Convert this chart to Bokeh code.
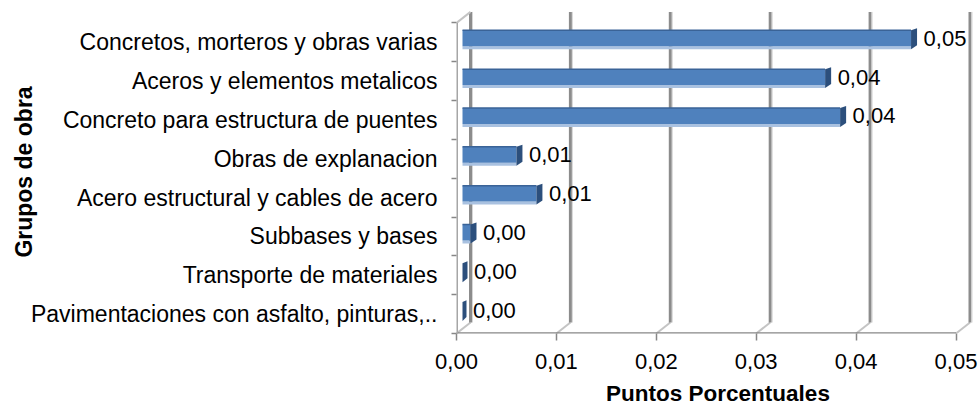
from bokeh.plotting import figure
from bokeh.models import FixedTicker, Range1d
from bokeh.embed import file_html
from bokeh.resources import INLINE
from bokeh.core.properties import value

# ---------------- data ----------------
categories = [
    "Concretos, morteros y obras varias",
    "Aceros y elementos metalicos",
    "Concreto para estructura de puentes",
    "Obras de explanacion",
    "Acero estructural y cables de acero",
    "Subbases y bases",
    "Transporte de materiales",
    "Pavimentaciones con asfalto, pinturas,..",
]
values = [0.0455, 0.0369, 0.0384, 0.0060, 0.0080, 0.0014, 0.0005, 0.0004]
value_labels = ["0,05", "0,04", "0,04", "0,01", "0,01", "0,00", "0,00", "0,00"]
x_ticks = [0.0, 0.01, 0.02, 0.03, 0.04, 0.05]
x_tick_labels = ["0,00", "0,01", "0,02", "0,03", "0,04", "0,05"]
x_title = "Puntos Porcentuales"
y_title = "Grupos de obra"

# ---------------- layout ----------------
W, H = 979, 408
LEFT, BOTTOM, TOP = 456, 74, 10
frame_w = W - LEFT
frame_h = H - BOTTOM - TOP
px_x = 9990.0          # pixels per unit on x
n = len(categories)
px_y = 38.95           # pixels per category slot
FONT = value("Liberation Sans")

p = figure(width=W, height=H, output_backend="svg", toolbar_location=None,
           x_range=Range1d(0, frame_w / px_x), y_range=Range1d(0, frame_h / px_y),
           min_border_left=LEFT, min_border_right=0, min_border_top=TOP,
           min_border_bottom=BOTTOM, background_fill_color="white",
           border_fill_color="white", outline_line_color=None)
p.grid.grid_line_color = None

# 3D offsets (back wall and bar depth), in data units
dxb, dyb = 14 / px_x, 11 / px_y
dxbar = 6 / px_x
yshift = 4 / px_y
half = 8 / px_y
band = 3 / px_y
capw = 6 / px_x
xmax = x_ticks[-1]

# back wall gridlines + floor slants
gx = [t + dxb for t in x_ticks]
p.segment(x0=x_ticks, y0=[0] * len(x_ticks), x1=gx, y1=[dyb] * len(x_ticks),
          line_color="#C4C4C4", line_width=2)
p.segment(x0=gx, y0=[dyb] * len(gx), x1=gx, y1=[n + dyb] * len(gx),
          line_color="#8C8C8C", line_width=3)
p.segment(x0=[g + 2 / px_x for g in gx], y0=[dyb] * len(gx),
          x1=[g + 2 / px_x for g in gx], y1=[n + dyb] * len(gx),
          line_color="#D6D6D6", line_width=1)
# left wall top edge
p.segment(x0=[0], y0=[n], x1=[dxb], y1=[n + dyb], line_color="#C4C4C4", line_width=2)

# front axis lines
p.segment(x0=[0], y0=[0], x1=[xmax], y1=[0], line_color="#878787", line_width=2.5)
p.segment(x0=[0], y0=[0], x1=[0], y1=[n], line_color="#A6A6A6", line_width=3)

# bars
yc = [n - 0.5 - i + yshift for i in range(n)]
xe = [v + dxbar for v in values]
fr = [max(e - capw, dxbar) for e in xe]
ft = [y + half for y in yc]
fb = [y - half for y in yc]
p.quad(left=[dxbar] * n, right=fr, top=fb, bottom=[b - band for b in fb],
       fill_color="#A9C1E0", line_color=None)
p.quad(left=[dxbar] * n, right=fr, top=ft, bottom=fb,
       fill_color="#4F81BD", line_color=None)
p.segment(x0=[dxbar] * n, y0=ft, x1=fr, y1=ft, line_color="#3A6397", line_width=1.5)
cap_xs = [[r, e, e, r] for r, e in zip(fr, xe)]
cap_ys = [[b - band, b + 1 / px_y, t + 2 / px_y, t] for b, t in zip(fb, ft)]
p.patches(xs=cap_xs, ys=cap_ys, fill_color="#2C4F7C", line_color=None)

# value labels
p.text(x=[e + 6.5 / px_x for e in xe], y=yc, text=value_labels,
       text_font=FONT, text_font_size="22px", text_color="black",
       text_align="left", text_baseline="middle")

# axes
xa = p.xaxis[0]
xa.ticker = FixedTicker(ticks=x_ticks)
xa.major_label_overrides = {t: l for t, l in zip(x_ticks, x_tick_labels)}
xa.axis_line_color = None
xa.major_tick_line_color = "#878787"
xa.major_tick_line_width = 1.5
xa.major_tick_in = 0
xa.major_tick_out = 7
xa.minor_tick_line_color = None
xa.major_label_text_font = "Liberation Sans"
xa.major_label_text_font_size = "22px"
xa.major_label_text_color = "black"
xa.major_label_standoff = 13
xa.axis_label = x_title
xa.axis_label_text_font = "Liberation Sans"
xa.axis_label_text_font_size = "22.5px"
xa.axis_label_text_font_style = "bold"
xa.axis_label_text_color = "black"
xa.axis_label_standoff = 9

ya = p.yaxis[0]
centers = [n - 0.5 - i for i in range(n)]
ya.ticker = FixedTicker(ticks=centers, minor_ticks=list(range(n + 1)))
ya.major_label_overrides = {c: cat for c, cat in zip(centers, categories)}
ya.axis_line_color = None
ya.major_tick_line_color = None
ya.major_tick_in = 0
ya.major_tick_out = 0
ya.minor_tick_line_color = "#878787"
ya.minor_tick_line_width = 1.5
ya.minor_tick_in = 0
ya.minor_tick_out = 5
ya.major_label_text_font = "Liberation Sans"
ya.major_label_text_font_size = "23px"
ya.major_label_text_color = "black"
ya.major_label_standoff = 14
ya.axis_label = y_title
ya.axis_label_text_font = "Liberation Sans"
ya.axis_label_text_font_size = "23px"
ya.axis_label_text_font_style = "bold"
ya.axis_label_text_color = "black"
ya.axis_label_standoff = -9

open("out.html", "w").write(file_html(p, INLINE))
